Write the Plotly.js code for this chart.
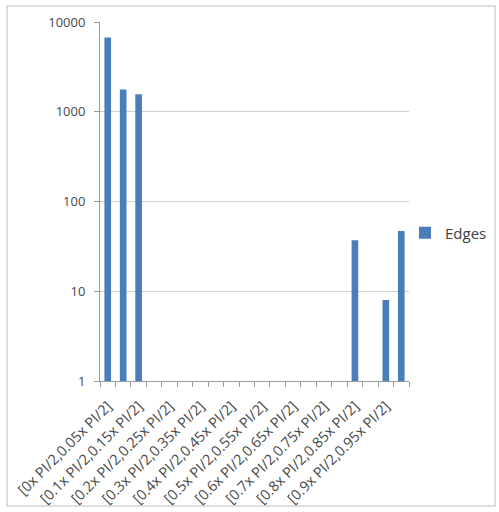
<!DOCTYPE html>
<html>
<head>
<meta charset="utf-8">
<script src="https://cdn.plot.ly/plotly-3.0.1.min.js"></script>
<style>
html,body{margin:0;padding:0;background:#fff;}
#chart{width:499px;height:512px;}
</style>
</head>
<body>
<div id="chart"></div>
<script>
const categories = [
  "[0x PI/2,0.05x PI/2]", "[0.05x PI/2,0.1x PI/2]",
  "[0.1x PI/2,0.15x PI/2]", "[0.15x PI/2,0.2x PI/2]",
  "[0.2x PI/2,0.25x PI/2]", "[0.25x PI/2,0.3x PI/2]",
  "[0.3x PI/2,0.35x PI/2]", "[0.35x PI/2,0.4x PI/2]",
  "[0.4x PI/2,0.45x PI/2]", "[0.45x PI/2,0.5x PI/2]",
  "[0.5x PI/2,0.55x PI/2]", "[0.55x PI/2,0.6x PI/2]",
  "[0.6x PI/2,0.65x PI/2]", "[0.65x PI/2,0.7x PI/2]",
  "[0.7x PI/2,0.75x PI/2]", "[0.75x PI/2,0.8x PI/2]",
  "[0.8x PI/2,0.85x PI/2]", "[0.85x PI/2,0.9x PI/2]",
  "[0.9x PI/2,0.95x PI/2]", "[0.95x PI/2,1x PI/2]"
];
const edges = [6700, 1770, 1570, 0, 0, 0, 0, 0, 0, 0, 0, 0, 0, 0, 0, 0, 37, 0, 8, 47];
// Only every other category label is shown in the reference
const tickLabels = [
  "[0x PI/2,0.05x PI/2]", "",
  "[0.1x PI/2,0.15x PI/2]", "",
  "[0.2x PI/2,0.25x PI/2]", "",
  "[0.3x PI/2,0.35x PI/2]", "",
  "[0.4x PI/2,0.45x PI/2]", "",
  "[0.5x PI/2,0.55x PI/2]", "",
  "[0.6x PI/2,0.65x PI/2]", "",
  "[0.7x PI/2,0.75x PI/2]", "",
  "[0.8x PI/2,0.85x PI/2]", "",
  "[0.9x PI/2,0.95x PI/2]", ""
];
const yTickVals = [1, 10, 100, 1000, 10000];
const yTickText = ["1", "10", "100", "1000", "10000"];

const W = 499, H = 512;
const m = {l: 100, r: 90, t: 22, b: 131, autoexpand: false};
const pw = W - m.l - m.r, ph = H - m.t - m.b;
const px = x => (x - m.l) / pw;
const py = y => (H - m.b - y) / ph;

const trace = {
  type: 'bar',
  x: categories,
  y: edges.map(v => v > 0 ? v : null),
  name: 'Edges',
  marker: {color: '#4a7ebb', line: {width: 0}},
  showlegend: true
};

const yFont = {size: 13, color: '#484848', family: 'Open Sans, Arial, sans-serif'};
const xFont = {size: 14.5, color: '#484848', family: 'Open Sans, Arial, sans-serif'};

const layout = {
  width: W, height: H,
  margin: m,
  paper_bgcolor: '#ffffff',
  plot_bgcolor: '#ffffff',
  font: {family: 'Open Sans, Arial, sans-serif', color: '#404040'},
  bargap: 0.57,
  showlegend: true,
  legend: {
    x: px(405), y: py(233), xanchor: 'left', yanchor: 'middle',
    font: {size: 15, color: '#404040', family: 'Open Sans, Arial, sans-serif'},
    bgcolor: 'rgba(0,0,0,0)', itemwidth: 30
  },
  xaxis: {
    type: 'category',
    categoryorder: 'array', categoryarray: categories,
    tickmode: 'array', tickvals: categories, ticktext: tickLabels,
    tickangle: -45,
    tickson: 'boundaries',
    ticks: 'outside', ticklen: 5, tickcolor: '#9a9a9a',
    showline: true, linecolor: '#9a9a9a', linewidth: 1,
    showgrid: false,
    tickfont: xFont,
    ticklabelstandoff: 10,
    automargin: false,
    fixedrange: true
  },
  yaxis: {
    type: 'log',
    range: [0, 4],
    tickmode: 'array', tickvals: yTickVals, ticktext: yTickText,
    ticks: 'outside', ticklen: 5, tickcolor: '#9a9a9a',
    showline: true, linecolor: '#9a9a9a', linewidth: 1,
    showgrid: true, gridcolor: '#cfcfcf', gridwidth: 1,
    zeroline: false,
    tickfont: yFont,
    ticklabelstandoff: 6,
    automargin: false,
    fixedrange: true
  },
  shapes: [{
    type: 'rect', xref: 'paper', yref: 'paper',
    x0: px(7), x1: px(495), y0: py(506), y1: py(6),
    line: {color: '#d4d4d4', width: 1.5},
    fillcolor: 'rgba(0,0,0,0)', layer: 'below'
  }]
};

Plotly.newPlot('chart', [trace], layout, {displayModeBar: false, staticPlot: true});
</script>
</body>
</html>
